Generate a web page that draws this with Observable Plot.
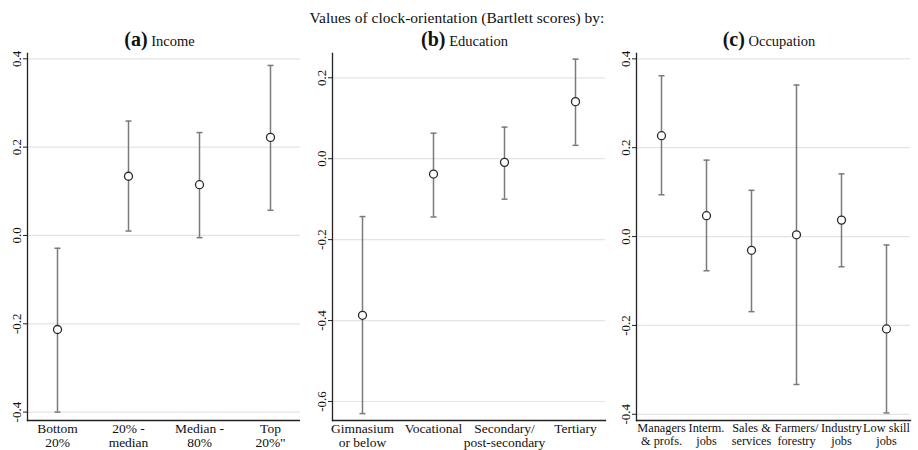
<!DOCTYPE html>
<html>
<head>
<meta charset="utf-8">
<script src="https://cdn.jsdelivr.net/npm/d3@7"></script>
<script src="https://cdn.jsdelivr.net/npm/@observablehq/plot@0.6"></script>
<style>
  html, body { margin: 0; padding: 0; background: #fff; }
  #wrap { position: relative; width: 918px; height: 450px; font-family: "Liberation Serif", "Times New Roman", serif; color: #111; overflow: hidden; }
  .main-title { position: absolute; left: 0; width: 914px; top: 10px; text-align: center; font-size: 15.5px; line-height: 16px; }
  .ptitle { position: absolute; top: 29px; text-align: center; line-height: 20px; white-space: nowrap; }
  .ptitle b { font-size: 20px; }
  .ptitle span { font-size: 14.5px; }
  .panel { position: absolute; top: 50px; }
  .panel svg { background: transparent !important; }
</style>
</head>
<body>
<div id="wrap">
  <div class="main-title">Values of clock-orientation (Bartlett scores) by:</div>
</div>
<script>
// ---- Data ----
const incomeCats = ["Bottom\n20%", "20% -\nmedian", "Median -\n80%", "Top\n20%\""];
const incomeEst  = [-0.213, 0.134, 0.115, 0.222];
const incomeLo   = [-0.400, 0.010, -0.005, 0.057];
const incomeHi   = [-0.029, 0.259, 0.233, 0.385];
const incomeTicks = [-0.4, -0.2, 0.0, 0.2, 0.4];

const eduCats = ["Gimnasium\nor below", "Vocational", "Secondary/\npost-secondary", "Tertiary"];
const eduEst  = [-0.387, -0.038, -0.009, 0.141];
const eduLo   = [-0.630, -0.144, -0.100, 0.033];
const eduHi   = [-0.143, 0.063, 0.078, 0.246];
const eduTicks = [-0.6, -0.4, -0.2, 0.0, 0.2];

const occCats = ["Managers\n& profs.", "Interm.\njobs", "Sales &\nservices", "Farmers/\nforestry", "Industry\njobs", "Low skill\njobs"];
const occEst  = [0.227, 0.047, -0.031, 0.004, 0.037, -0.208];
const occLo   = [0.094, -0.077, -0.169, -0.333, -0.068, -0.397];
const occHi   = [0.362, 0.172, 0.104, 0.341, 0.141, -0.019];
const occTicks = [-0.4, -0.2, 0.0, 0.2, 0.4];

// ---- Panels ----
const panels = [
  {letter: "(a)", name: "Income", cats: incomeCats, est: incomeEst, lo: incomeLo, hi: incomeHi, ticks: incomeTicks,
   left: 0, width: 300, mL: 27, mR: 0, yDomain: [-0.419, 0.412], pad: 0.42, fs: 13.5},
  {letter: "(b)", name: "Education", cats: eduCats, est: eduEst, lo: eduLo, hi: eduHi, ticks: eduTicks,
   left: 300, width: 307, mL: 32, mR: 2, yDomain: [-0.647, 0.26], pad: 0.415, fs: 13.5},
  {letter: "(c)", name: "Occupation", cats: occCats, est: occEst, lo: occLo, hi: occHi, ticks: occTicks,
   left: 605, width: 313, mL: 31, mR: 8, yDomain: [-0.414, 0.412], pad: 0.48, fs: 12.3}
];

// horizontal cap symbol for error bars
const capSymbol = { draw(ctx, size) { const w = 3; ctx.moveTo(-w, 0); ctx.lineTo(w, 0); } };

const wrap = document.getElementById("wrap");
const fmt = d => d.toFixed(1);

for (const p of panels) {
  const data = p.cats.map((c, i) => ({cat: c, est: p.est[i], lo: p.lo[i], hi: p.hi[i]}));
  const chart = Plot.plot({
    width: p.width,
    height: 400,
    marginTop: 3,
    marginBottom: 30,
    marginLeft: p.mL,
    marginRight: p.mR,
    style: {fontFamily: "'Liberation Serif', 'Times New Roman', serif", fontSize: "13px", color: "#111", background: "transparent"},
    x: {type: "point", domain: p.cats, padding: p.pad},
    y: {domain: p.yDomain},
    marks: [
      Plot.gridY(p.ticks, {stroke: "#e4e4e4", strokeOpacity: 1, strokeWidth: 1.2}),
      Plot.frame({anchor: "left", stroke: "#222", strokeWidth: 1.3}),
      Plot.frame({anchor: "bottom", stroke: "#222", strokeWidth: 1.3}),
      Plot.axisY({ticks: p.ticks, tickFormat: fmt, tickRotate: -90, tickSize: 4, tickPadding: 3, fontSize: 13, stroke: "#222", label: null}),
      Plot.axisX({tickSize: 0, tickPadding: 3, fontSize: p.fs, lineHeight: 1.0, label: null}),
      Plot.ruleX(data, {x: "cat", y1: "lo", y2: "hi", stroke: "#7a7a7a", strokeWidth: 1.5}),
      Plot.dot(data, {x: "cat", y: "hi", symbol: capSymbol, r: 3, fill: "none", stroke: "#7a7a7a", strokeWidth: 1.5}),
      Plot.dot(data, {x: "cat", y: "lo", symbol: capSymbol, r: 3, fill: "none", stroke: "#7a7a7a", strokeWidth: 1.5}),
      Plot.dot(data, {x: "cat", y: "est", r: 4, fill: "white", stroke: "#2a2a2a", strokeWidth: 1.3})
    ]
  });
  const div = document.createElement("div");
  div.className = "panel";
  div.style.left = p.left + "px";
  div.appendChild(chart);
  wrap.appendChild(div);

  const t = document.createElement("div");
  t.className = "ptitle";
  const plotLeft = p.left + p.mL;
  const plotW = p.width - p.mL - p.mR;
  t.style.left = (plotLeft - 4) + "px";
  t.style.width = plotW + "px";
  t.innerHTML = `<b>${p.letter}</b><span>&nbsp;${p.name}</span>`;
  wrap.appendChild(t);
}
</script>
</body>
</html>
